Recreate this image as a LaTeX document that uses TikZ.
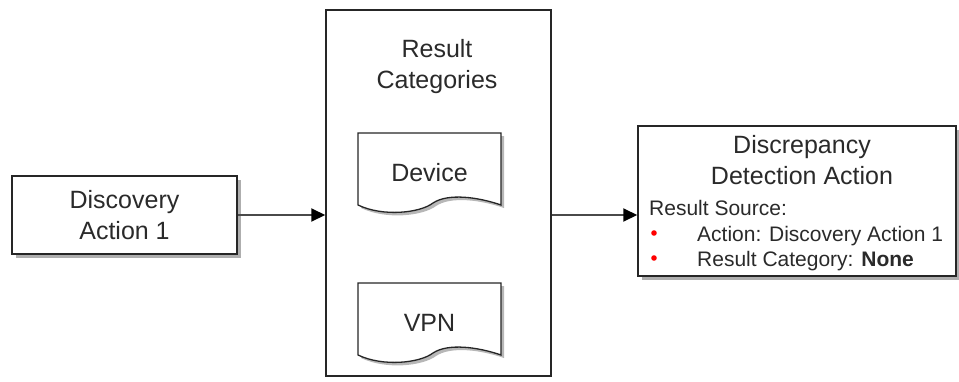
\documentclass[tikz,border=0pt]{standalone}
\usepackage{fontspec}
\setmainfont{Liberation Sans}
\usetikzlibrary{arrows.meta,shadows}

\definecolor{edgegray}{HTML}{4A4A4A}
\definecolor{textgray}{HTML}{2A2A2A}
\newcommand\bigtext{\fontsize{25}{31}\selectfont}
\newcommand\smalltext{\fontsize{21}{25}\selectfont}

% document shape drawn round a point
\newcommand\docshape[1]{%
  \begin{scope}[shift={(#1)}]
    \draw[docline] (-71.5,-40) -- (71.5,-40) -- (71.5,32)
      .. controls (48.5,24) and (18.5,20) .. (3.5,30)
      .. controls (-9.5,40) and (-46.5,44) .. (-71.5,32) -- cycle;
  \end{scope}}

\begin{document}
\begin{tikzpicture}[x=1pt,y=-1pt,
  every node/.style={text=textgray,font=\bigtext},
  box/.style={draw=black!85,line width=1.5pt,fill=white,
    drop shadow={shadow xshift=4pt,shadow yshift=-4pt,fill=black!45,opacity=.7}},
  frame/.style={draw=black!85,line width=1.5pt},
  docline/.style={draw=black!85,line width=1.3pt,fill=white,
    drop shadow={shadow xshift=3pt,shadow yshift=-3pt,fill=black!40,opacity=.7}},
  small/.style={font=\smalltext,anchor=base west,inner sep=0pt},
  flow/.style={draw=edgegray,line width=2pt,
    -{Triangle[length=14pt,width=13pt,color=black,fill=black]}}]
\useasboundingbox (0,0) rectangle (959,381);

\node[box,minimum width=225pt,minimum height=78pt,align=center] (disc) at (124.5,215) {Discovery\\Action 1};

\node[frame,minimum width=225pt,minimum height=366pt] (cats) at (438.5,193) {};
\node[align=center] (catname) at (437,67) {Result\\Categories};
\coordinate (device) at (429.5,173);
\docshape{device}
\node (devicetext) at (device) {Device};
\coordinate (vpn) at (429.5,323);
\docshape{vpn}
\node (vpntext) at (vpn) {VPN};

\node[box,minimum width=318pt,minimum height=150pt] (det) at (797,201) {};
\node[align=center] (detname) at (802,160) {Discrepancy\\Detection Action};
\node[small] (src) at (649,215) {Result Source:};
\node[small] (srcact) at (697,241) {Action: Discovery Action 1};
\node[small] (srccat) at (697,266) {Result Category: \textbf{None}};
\fill[red] (654,233) circle (2.8pt);
\fill[red] (654,258) circle (2.8pt);

\draw[flow] (disc.east) -- (disc.east -| cats.west);
\draw[flow] (cats.east |- disc.east) -- (det.west |- disc.east);
\end{tikzpicture}
\end{document}
